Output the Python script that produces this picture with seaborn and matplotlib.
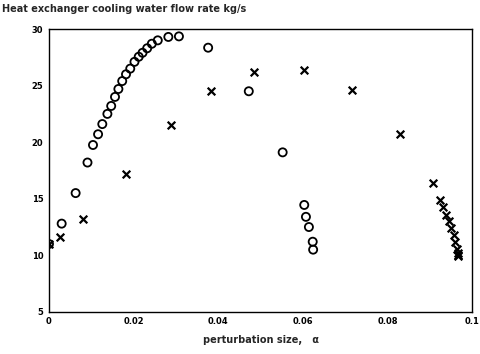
import matplotlib
matplotlib.use("Agg")
import matplotlib.pyplot as plt
import seaborn as sns
import pandas as pd

# Circle series (o)
circ_x = [0.0, 0.0030, 0.0063, 0.0091, 0.0104, 0.0116, 0.0126, 0.0138, 0.0147,
          0.0156, 0.0164, 0.0173, 0.0182, 0.0192, 0.0202, 0.0212, 0.0221, 0.0232,
          0.0243, 0.0257, 0.0282, 0.0307, 0.0376, 0.0472, 0.0552, 0.0603, 0.0607,
          0.0614, 0.0623, 0.0624]
circ_y = [11.0, 12.8, 15.5, 18.2, 19.75, 20.7, 21.6, 22.5, 23.2,
          24.0, 24.7, 25.4, 26.0, 26.5, 27.1, 27.55, 27.9, 28.3,
          28.7, 29.0, 29.3, 29.35, 28.35, 24.5, 19.1, 14.45, 13.4,
          12.5, 11.2, 10.5]

# Cross series (x)
cross_x = [0.0, 0.0026, 0.0081, 0.0182, 0.0288, 0.0382, 0.0484, 0.0603, 0.0716,
           0.0828, 0.0906, 0.0924, 0.0930, 0.0938, 0.0946, 0.0950, 0.0956, 0.0959,
           0.0964, 0.0966, 0.0967, 0.0966]
cross_y = [11.0, 11.6, 13.2, 17.2, 21.5, 24.55, 26.2, 26.4, 24.6,
           20.7, 16.4, 14.9, 14.3, 13.6, 13.0, 12.4, 11.8, 11.2,
           10.6, 10.2, 9.9, 10.0]

x_ticks = [0, 0.02, 0.04, 0.06, 0.08, 0.1]
x_tick_labels = ["0", "0.02", "0.04", "0.06", "0.08", "0.1"]
y_ticks = [5, 10, 15, 20, 25, 30]

title = "Heat exchanger cooling water flow rate kg/s"
xlabel = "perturbation size,   \u03b1"

sns.set_theme(style="white")
plt.rcParams['font.family'] = ['DejaVu Sans']

df_c = pd.DataFrame({"x": circ_x, "y": circ_y})
df_x = pd.DataFrame({"x": cross_x, "y": cross_y})

fig = plt.figure(figsize=(4.8, 3.54), dpi=100)
ax = fig.add_axes([0.102, 0.119, 0.882, 0.799])

sns.scatterplot(data=df_c, x="x", y="y", ax=ax, marker="o", s=34,
                facecolor="none", edgecolor="black", linewidth=1.3, legend=False)
sns.scatterplot(data=df_x, x="x", y="y", ax=ax, marker="x", s=30,
                color="black", linewidth=1.6, legend=False)

ax.set_xlim(0, 0.1)
ax.set_ylim(5, 30)
ax.set_xticks(x_ticks)
ax.set_xticklabels(x_tick_labels)
ax.set_yticks(y_ticks)
ax.tick_params(direction="in", length=3, width=0.8, labelsize=6,
               colors="black", pad=4)
for lab in ax.get_xticklabels() + ax.get_yticklabels():
    lab.set_fontweight("bold")
for sp in ax.spines.values():
    sp.set_color("black")
    sp.set_linewidth(1.0)

ax.set_xlabel(xlabel, fontsize=7, fontweight="bold", labelpad=6)
ax.set_ylabel("")
fig.text(0.005, 0.975, title, fontsize=7, fontweight="bold", ha="left", va="center")

fig.savefig("out.png", dpi=100, facecolor="white")
